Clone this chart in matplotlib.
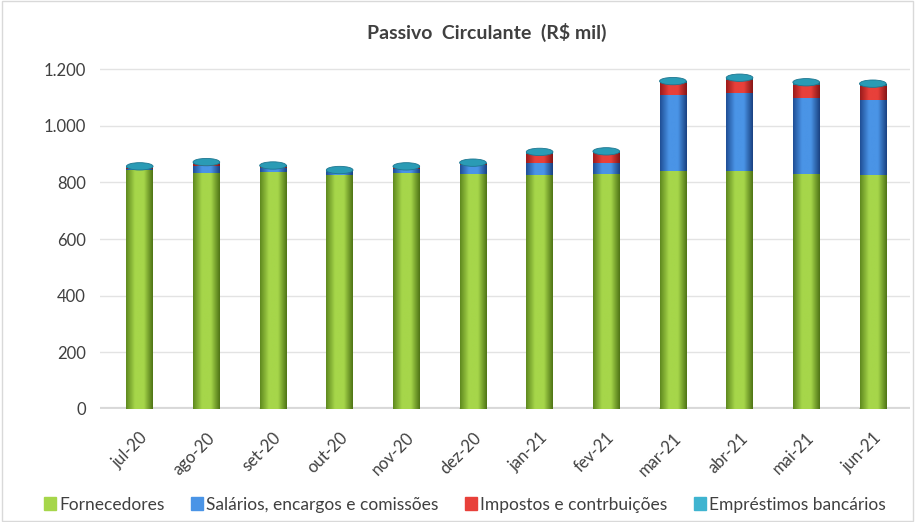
import numpy as np
import matplotlib
matplotlib.use("Agg")
import matplotlib.pyplot as plt
from matplotlib.patches import Ellipse, Rectangle
from matplotlib.colors import LinearSegmentedColormap
from matplotlib.ticker import FuncFormatter

plt.rcParams['font.family'] = ['Lato', 'DejaVu Sans']

# dados (R$ mil)
meses = ['jul-20', 'ago-20', 'set-20', 'out-20', 'nov-20', 'dez-20',
         'jan-21', 'fev-21', 'mar-21', 'abr-21', 'mai-21', 'jun-21']
fornecedores = [845, 832, 836, 828, 835, 830, 828, 830, 840, 842, 830, 826]
salarios = [4, 26, 14, 8, 14, 30, 40, 40, 268, 275, 270, 265]
impostos = [2, 8, 4, 2, 2, 4, 34, 34, 42, 45, 46, 50]
emprestimos = [6, 6, 6, 6, 6, 6, 6, 6, 8, 8, 8, 8]

series = [
    ('Fornecedores', fornecedores, ('#5f8a1f', '#a6d64a', '#4f7516')),
    ('Salários, encargos e comissões', salarios, ('#1f4f96', '#4a94e6', '#1a4282')),
    ('Impostos e contrbuições', impostos, ('#9c1b1b', '#e8403a', '#861616')),
    ('Empréstimos bancários', emprestimos, ('#1d7690', '#3fb4d0', '#186378')),
]

fig = plt.figure(figsize=(9.15, 5.22), dpi=100)
ax = fig.add_axes([0.109, 0.2165, 0.885, 0.678])

x = np.arange(len(meses))
w = 0.4
bottom = np.zeros(len(meses))
grad = np.linspace(0, 1, 64).reshape(1, -1)
for name, vals, cols in series:
    vals = np.array(vals, dtype=float)
    cmap = LinearSegmentedColormap.from_list(name, [cols[0], cols[1], cols[1], cols[2]])
    bars = ax.bar(x, vals, w, bottom=bottom, color=cols[1], edgecolor='none', zorder=2)
    for b in bars:
        im = ax.imshow(grad, cmap=cmap, aspect='auto', zorder=2.5,
                       extent=[b.get_x(), b.get_x() + b.get_width(),
                               b.get_y(), b.get_y() + b.get_height()])
        im.set_clip_path(b)
    bottom += vals

# tampa dos cilindros
for xi, tot in zip(x, bottom):
    ax.add_patch(Ellipse((xi, tot), w, 26, facecolor='#2a9bb5', edgecolor='#1d7690',
                         lw=0.6, zorder=3))
# base
for xi in x:
    ax.add_patch(Ellipse((xi, 0), w, 20, facecolor='#4f7516', edgecolor='none', zorder=1.9))

ax.set_xlim(-0.6, 11.55)
ax.set_ylim(0, 1250)
ax.set_yticks(np.arange(0, 1201, 200))
ax.yaxis.set_major_formatter(FuncFormatter(lambda v, p: f'{int(v):,}'.replace(',', '.')))
ax.set_xticks(x)
ax.set_xticklabels(meses, rotation=45, ha='right', rotation_mode='anchor')
ax.tick_params(axis='both', length=0, labelsize=12, colors='#404040', pad=10)
ax.tick_params(axis='x', pad=15)
ax.grid(axis='y', color='#e3e3e3', lw=1, zorder=0)
ax.axhline(0, color='#bfbfbf', lw=3, alpha=0.6, zorder=1)
for s in ax.spines.values():
    s.set_visible(False)

fig.text(0.532, 0.937, 'Passivo  Circulante  (R$ mil)', ha='center', va='center',
         fontsize=14, fontweight='bold', color='#404040')

leg = fig.legend(handles=[plt.Rectangle((0, 0), 1, 1, color=c[2][1]) for c in series],
                 labels=[s[0] for s in series], loc='lower center', ncol=4,
                 bbox_to_anchor=(0.508, -0.012), frameon=False, fontsize=12.5,
                 handlelength=0.7, handleheight=0.7, handletextpad=0.2, columnspacing=1.5)
for t in leg.get_texts():
    t.set_color('#404040')

fig.patches.append(Rectangle((0.002, 0.002), 0.996, 0.996, transform=fig.transFigure,
                             fill=False, edgecolor='#d9d9d9', lw=1))

fig.savefig('out.png', dpi=100)
